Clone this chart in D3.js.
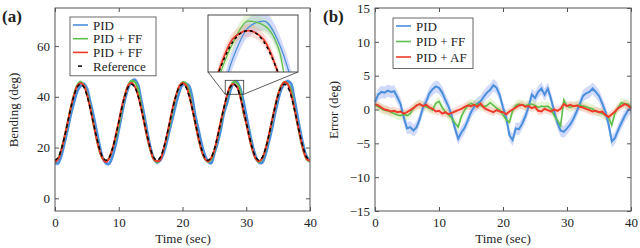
<!DOCTYPE html>
<html>
<head>
<meta charset="utf-8">
<script src="https://cdn.jsdelivr.net/npm/d3@7"></script>
<style>
body { margin: 0; background: #fff; }
text { font-family: "Liberation Serif", "Times New Roman", serif; fill: #222; }
</style>
</head>
<body>
<svg id="fig" width="640" height="248"></svg>
<script>
// sample times (sec)
var time = [0,0.5,1,1.5,2,2.5,3,3.5,4,4.5, 5,5.5,6,6.5,7,7.5,8,8.5,9,9.5,
    10,10.5,11,11.5,12,12.5,13,13.5,14,14.5, 15,15.5,16,16.5,17,17.5,18,18.5,19,19.5,
    20,20.5,21,21.5,22,22.5,23,23.5,24,24.5, 25,25.5,26,26.5,27,27.5,28,28.5,29,29.5,
    30,30.5,31,31.5,32,32.5,33,33.5,34,34.5, 35,35.5,36,36.5,37,37.5,38,38.5,39,39.5, 40]

// reference bending (deg)
var reference = [15.0,16.1,19.4,24.3,30.0,35.7,40.6,43.9,45.0,43.9,40.6,35.7,30.0,24.3,19.4,16.1,
    15.0,16.1,19.4,24.3,30.0,35.7,40.6,43.9,45.0,43.9,40.6,35.7,30.0,24.3,19.4,16.1,
    15.0,16.1,19.4,24.3,30.0,35.7,40.6,43.9,45.0,43.9,40.6,35.7,30.0,24.3,19.4,16.1,
    15.0,16.1,19.4,24.3,30.0,35.7,40.6,43.9,45.0,43.9,40.6,35.7,30.0,24.3,19.4,16.1,
    15.0,16.1,19.4,24.3,30.0,35.7,40.6,43.9,45.0,43.9,40.6,35.7,30.0,24.3,19.4,16.1, 15.0]

// tracking error (deg)
var errPID = [1.1,2.2,2.6,2.5,2.8,2.6,2.7,1.8,0.8,-1.2,
    -2.8,-2.6,-3.1,-2.6,-1.4,0.3,1.2,2.4,3.0,3.4,
    3.2,2.5,1.4,0.4,-1.0,-2.8,-4.3,-3.4,-2.7,-1.6,
    -0.4,0.4,0.9,1.2,1.9,2.5,2.9,3.6,3.2,2.1,
    0.3,-1.2,-3.8,-4.5,-2.8,-2.9,-2.1,-1.0,0.4,2.2,
    1.7,2.6,3.1,2.2,3.1,1.6,-0.3,-2.0,-3.1,-3.3,
    -2.8,-2.2,-1.4,-0.3,0.8,2.0,2.4,2.6,3.1,2.6,
    2.0,0.9,-0.3,-2.2,-4.7,-4.2,-3.0,-2.0,-1.0,-0.2,
    0.3]
var errFF = [0.7,0.4,0.1,-0.1,-0.2,-0.4,-0.6,-0.8,-0.9,-0.7,
    -0.9,-0.6,0.2,0.6,0.8,0.5,0.4,0.2,-0.1,0.9,
    1.2,0.3,-0.4,-0.8,-1.3,-2.0,-2.6,-1.0,-0.1,0.6,
    0.9,0.7,0.8,0.6,0.4,0.6,1.0,0.6,0.2,-0.1,
    -0.8,-1.5,-1.9,-0.2,0.6,0.8,0.7,0.6,0.7,0.8,
    0.6,0.3,0.5,0.4,0.5,0.1,-0.9,-1.6,-2.4,1.4,
    0.5,0.3,0.5,0.6,0.7,0.5,0.4,0.2,0.1,-0.3,
    -0.4,-0.6,-0.8,-1.2,-2.3,-0.5,0.3,1.0,0.9,0.8,
    0.4]
var errAF = [0.8,0.6,0.3,0.0,-0.1,-0.3,-0.2,-0.4,-0.3,-0.6,
    -0.4,-0.1,0.2,0.6,0.8,0.5,0.7,0.3,0.1,-0.3,
    -0.2,-0.6,-0.4,-0.7,-0.5,-0.3,-0.1,0.1,0.4,0.6,
    0.5,0.7,0.4,0.9,0.3,0.0,-0.2,-0.4,-0.1,-0.3,
    -0.4,-0.7,-0.3,0.0,0.3,0.6,0.7,0.4,0.5,0.2,
    0.4,-0.2,-0.3,0.1,-0.1,-0.3,0.0,-0.2,0.1,0.8,
    0.5,0.7,0.5,0.6,0.4,0.3,0.1,-0.1,-0.3,-0.2,
    -0.4,-0.3,-0.8,-1.1,-0.7,-0.3,0.2,0.5,0.8,0.6,
    0.2]

// run-to-run spread (deg), used for the shaded bands
var spread = [0.9, 0.7, 0.6]

var namesA = ['PID', 'PID + FF', 'PID + FF', 'Reference']
var namesB = ['PID', 'PID + FF', 'PID + AF']
var colors = ['#4a8fdc', '#5cbf4a', '#ee3a2a']
var bandColors = ['#7f95f5', '#b6e38a', '#f6a08e']

var xTicks = [0, 10, 20, 30, 40]
var yTicksA = [0, 20, 40, 60]
var yTicksB = [-15, -10, -5, 0, 5, 10, 15]
var zoomT = [26.7, 29.6], zoomY = [41, 46.5]

var svg = d3.select('#fig')

function frame(g, x, y, yTicks) {
    var w = x.range()[1] - x.range()[0]
    var h = y.range()[0] - y.range()[1]
    g.append('g').attr('transform', 'translate(0,' + y.range()[0] + ')')
        .call(d3.axisBottom(x).tickValues(xTicks).tickSizeInner(-4).tickSizeOuter(0).tickPadding(7))
    g.append('g').attr('transform', 'translate(0,' + y.range()[1] + ')')
        .call(d3.axisTop(x).tickValues(xTicks).tickSizeInner(-4).tickSizeOuter(0).tickFormat(''))
    g.append('g').attr('transform', 'translate(' + x.range()[0] + ',0)')
        .call(d3.axisLeft(y).tickValues(yTicks).tickSizeInner(-4).tickSizeOuter(0).tickPadding(5))
    g.append('g').attr('transform', 'translate(' + x.range()[1] + ',0)')
        .call(d3.axisRight(y).tickValues(yTicks).tickSizeInner(-4).tickSizeOuter(0).tickFormat(''))
    g.selectAll('.domain').remove()
    g.selectAll('.tick line').attr('stroke', '#555')
    g.selectAll('.tick text').attr('font-size', 13).attr('fill', '#222')
        .style('font-family', '"Liberation Serif", serif')
    g.append('rect').attr('x', x.range()[0]).attr('y', y.range()[1])
        .attr('width', w).attr('height', h)
        .attr('fill', 'none').attr('stroke', '#555').attr('stroke-width', 1)
}

function legend(g, x0, y0, w, names, cols, dashLast) {
    var rowH = names.length == 4 ? 13.7 : 15.5
    g.append('rect').attr('x', x0).attr('y', y0).attr('width', w)
        .attr('height', names.length * rowH + 4)
        .attr('fill', '#fff').attr('stroke', '#444').attr('stroke-width', 0.8)
    names.forEach(function(n, i) {
        var cy = y0 + 8 + i * rowH
        if (dashLast && i == names.length - 1) {
            g.append('line').attr('x1', x0 + 8).attr('x2', x0 + 12).attr('y1', cy).attr('y2', cy)
                .attr('stroke', '#000').attr('stroke-width', 1.5)
        } else {
            g.append('line').attr('x1', x0 + 3).attr('x2', x0 + 18).attr('y1', cy).attr('y2', cy)
                .attr('stroke', cols[i]).attr('stroke-width', 1.6)
        }
        g.append('text').attr('x', x0 + 23).attr('y', cy + 4.5).attr('font-size', 13).text(n)
    })
}

// ---------- panel (a) ----------
var xa = d3.scaleLinear().domain([0, 40]).range([55, 310])
var ya = d3.scaleLinear().domain([-5, 75]).range([211, 8])
var measured = [errPID, errFF, errAF].map(function(e) {
    return reference.map(function(r, i) { return r - e[i] })
})

var ga = svg.append('g')
svg.append('clipPath').attr('id', 'clipA').append('rect')
    .attr('x', 55).attr('y', 8).attr('width', 255).attr('height', 203)

function drawBending(g, x, y, lw, curve) {
    var area = d3.area().curve(curve).x(function(d, i) { return x(time[i]) })
    var line = d3.line().curve(curve).x(function(d, i) { return x(time[i]) })
    measured.forEach(function(m, k) {
        g.append('path').datum(m)
            .attr('d', area.y0(function(d) { return y(d - spread[k]) }).y1(function(d) { return y(d + spread[k]) }))
            .attr('fill', bandColors[k]).attr('opacity', 0.35)
    })
    measured.forEach(function(m, k) {
        g.append('path').datum(m)
            .attr('d', line.y(function(d) { return y(d) }))
            .attr('fill', 'none').attr('stroke', colors[k]).attr('stroke-width', lw[k])
    })
    g.append('path').datum(reference)
        .attr('d', line.y(function(d) { return y(d) }))
        .attr('fill', 'none').attr('stroke', '#000').attr('stroke-width', lw[3])
        .attr('stroke-dasharray', lw[4])
}

drawBending(ga.append('g').attr('clip-path', 'url(#clipA)'), xa, ya, [2.6, 2, 2, 1.5, '4,3'], d3.curveCatmullRom)
frame(ga, xa, ya, yTicksA)

// zoom box + inset
var zx0 = xa(zoomT[0]), zx1 = xa(zoomT[1]), zy0 = ya(zoomY[1]), zy1 = ya(zoomY[0])
ga.append('rect').attr('x', zx0).attr('y', zy0).attr('width', zx1 - zx0).attr('height', zy1 - zy0)
    .attr('fill', 'none').attr('stroke', '#333').attr('stroke-width', 0.8)
var xi = d3.scaleLinear().domain(zoomT).range([208, 298])
var yi = d3.scaleLinear().domain(zoomY).range([72, 15])
ga.append('line').attr('x1', 208).attr('y1', 72).attr('x2', zx0).attr('y2', zy1)
    .attr('stroke', '#333').attr('stroke-width', 0.8)
ga.append('line').attr('x1', 298).attr('y1', 72).attr('x2', zx1).attr('y2', zy1)
    .attr('stroke', '#333').attr('stroke-width', 0.8)
ga.append('rect').attr('x', 208).attr('y', 15).attr('width', 90).attr('height', 57).attr('fill', '#fff')
svg.append('clipPath').attr('id', 'clipI').append('rect')
    .attr('x', 208).attr('y', 15).attr('width', 90).attr('height', 57)
drawBending(ga.append('g').attr('clip-path', 'url(#clipI)'), xi, yi, [1.2, 1.2, 1.8, 1.5, '3,3'], d3.curveMonotoneX)
ga.append('rect').attr('x', 208).attr('y', 15).attr('width', 90).attr('height', 57)
    .attr('fill', 'none').attr('stroke', '#333').attr('stroke-width', 0.9)

legend(ga, 70, 17, 86, namesA, colors, true)

ga.append('text').attr('x', 183).attr('y', 243).attr('text-anchor', 'middle').attr('font-size', 13).text('Time (sec)')
ga.append('text').attr('transform', 'translate(18,110) rotate(-90)').attr('text-anchor', 'middle')
    .attr('font-size', 13).text('Bending (deg)')
ga.append('text').attr('x', 2).attr('y', 22).attr('font-size', 17).attr('font-weight', 'bold').text('(a)')

// ---------- panel (b) ----------
var xb = d3.scaleLinear().domain([0, 40]).range([375, 631])
var yb = d3.scaleLinear().domain([-15, 15]).range([211, 8])
var gb = svg.append('g')
var errs = [errPID, errFF, errAF]

var areaB = d3.area().x(function(d, i) { return xb(time[i]) })
var lineB = d3.line().x(function(d, i) { return xb(time[i]) }).y(function(d) { return yb(d) })
errs.forEach(function(e, k) {
    gb.append('path').datum(e)
        .attr('d', areaB.y0(function(d) { return yb(d - spread[k]) }).y1(function(d) { return yb(d + spread[k]) }))
        .attr('fill', bandColors[k]).attr('opacity', 0.35)
})
errs.forEach(function(e, k) {
    gb.append('path').datum(e).attr('d', lineB)
        .attr('fill', 'none').attr('stroke', colors[k]).attr('stroke-width', k == 1 ? 1.6 : 2)
})
frame(gb, xb, yb, yTicksB)
legend(gb, 393, 18, 80, namesB, colors, false)

gb.append('text').attr('x', 503).attr('y', 243).attr('text-anchor', 'middle').attr('font-size', 13).text('Time (sec)')
gb.append('text').attr('transform', 'translate(338,110) rotate(-90)').attr('text-anchor', 'middle')
    .attr('font-size', 13).text('Error (deg)')
gb.append('text').attr('x', 323).attr('y', 22).attr('font-size', 17).attr('font-weight', 'bold').text('(b)')
</script>
</body>
</html>
